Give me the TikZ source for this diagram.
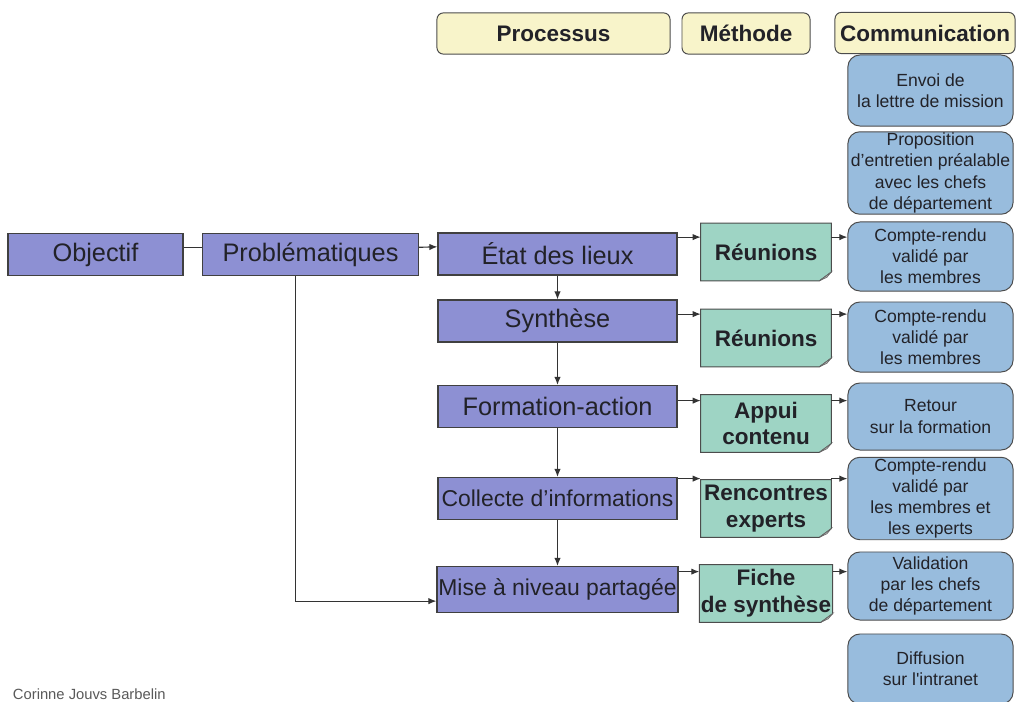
\documentclass[tikz,border=0pt]{standalone}
\usepackage{fontspec}
\setmainfont{Liberation Sans}
\usetikzlibrary{arrows.meta,calc,positioning}
\definecolor{headyellow}{RGB}{248,244,202}
\definecolor{procviolet}{RGB}{141,144,211}
\definecolor{methgreen}{RGB}{158,212,196}
\definecolor{commblue}{RGB}{152,188,221}
\definecolor{inkgrey}{RGB}{34,34,40}
\tikzset{
  link/.style={black!80, line width=0.8pt},
  flow/.style={-{Latex[length=2mm,width=1.6mm]}, black!80, line width=0.8pt},
  headbox/.style={draw=black!70, line width=0.7pt, fill=headyellow,
                  minimum height=10.3mm, rounded corners=1.6mm,
                  inner sep=2pt, align=center, text=inkgrey,
                  font=\bfseries\fontsize{16}{19}\selectfont},
  procbox/.style={draw=black!75, line width=0.8pt, fill=procviolet,
                  minimum width=59.75mm, minimum height=10.5mm,
                  inner sep=1pt, align=center, text=inkgrey,
                  font=\fontsize{18}{21}\selectfont},
  methbox/.style={fill=methgreen, minimum width=32.5mm,
                  minimum height=14.3mm, inner sep=1pt, align=center,
                  text=inkgrey, font=\bfseries\fontsize{16}{19}\selectfont},
  commbox/.style={draw=black!70, line width=0.7pt, fill=commblue,
                  minimum width=41.3mm, rounded corners=3mm,
                  inner sep=1pt, align=center, text=inkgrey,
                  font=\fontsize{12.5}{15}\selectfont},
  note/.style={font=\fontsize{10.5}{12}\selectfont, text=black!65},
}
\begin{document}
\begin{tikzpicture}[x=0.025cm,y=-0.025cm]
  \path[use as bounding box] (0,0) rectangle (1017,702);

  % column headers
  \node[headbox, minimum width=58.25mm] (hProc) at (553.5,33.5) {Processus};
  \node[headbox, minimum width=32mm] (hMeth) at (746,33.5) {Méthode};
  \node[headbox, minimum width=45mm] (hComm) at (925,33) {Communication};

  % process column
  \node[procbox, minimum width=43.75mm] (Obj) at (95.5,254.5) {Objectif};
  \node[procbox, minimum width=54mm] (Prob) at (310.5,254.5) {Problématiques};
  \node[procbox] (P1) at (557.5,254) {État des lieux};
  \node[procbox] (P2) at (557.5,321) {Synthèse};
  \node[procbox] (P3) at (557.5,406.5) {Formation-action};
  \node[procbox, font=\fontsize{16.3}{19}\selectfont] (P4) at (557.5,498.5)
    {Collecte d’informations};
  \node[procbox, minimum height=11.5mm, font=\fontsize{16.3}{19}\selectfont] (P5)
    at (557.5,589.5) {Mise à niveau partagée};

  % method column
  \node[methbox] (M1) at (766,252) {Réunions};
  \node[methbox] (M2) at (766,338) {Réunions};
  \node[methbox] (M3) at (766,423.5) {Appui\\contenu};
  \node[methbox] (M4) at (766,508.5) {Rencontres\\experts};
  \node[methbox] (M5) at (766,593.5) {Fiche\\de synthèse};
  \foreach \m in {M1,M2,M3,M4,M5} {
    \fill[white] ([xshift=-3mm]\m.south east) -- ([xshift=1pt,yshift=-1pt]\m.south east)
      -- ([yshift=2.2mm]\m.south east) -- cycle;
    \draw[black!70, line width=0.7pt] (\m.south west) -- (\m.north west)
      -- (\m.north east) -- ([yshift=2.2mm]\m.south east)
      -- ([xshift=-3mm]\m.south east) -- cycle;
    \filldraw[fill=black!30, draw=black!60, line width=0.4pt]
      ([xshift=-3mm]\m.south east) -- ([yshift=2.2mm]\m.south east)
      -- ([xshift=-1.1mm,yshift=0.9mm]\m.south east) -- cycle;
  }

  % communication column
  \node[commbox, minimum height=17.75mm] (C1) at (930.5,90.5)
    {Envoi de\\la lettre de mission};
  \node[commbox, minimum height=20mm] (C2) at (930.5,173)
    {Proposition\\d’entretien préalable\\avec les chefs\\de département};
  \node[commbox, minimum height=17.25mm] (C3) at (930.5,256.5)
    {Compte-rendu\\validé par\\les membres};
  \node[commbox, minimum height=17.5mm] (C4) at (930.5,337)
    {Compte-rendu\\validé par\\les membres};
  \node[commbox, minimum height=16.75mm] (C5) at (930.5,416.5)
    {Retour\\sur la formation};
  \node[commbox, minimum height=19.25mm] (C6) at (930.5,498.5)
    {Compte-rendu\\validé par\\les membres et\\les experts};
  \node[commbox, minimum height=17mm] (C7) at (930.5,586)
    {Validation\\par les chefs\\de département};
  \node[commbox, minimum height=17.5mm] (C8) at (930.5,669)
    {Diffusion\\sur l\textquotesingle intranet};

  % connectors
  \draw[link] ([yshift=1.8mm]Obj.east) -- ([yshift=1.8mm]Prob.west);
  \draw[flow] ([yshift=1.8mm]Prob.east) -- ([yshift=1.8mm]P1.west);
  \draw[flow] ([xshift=-3.75mm]Prob.south) |- ([yshift=-2.9mm]P5.west);
  \foreach \a/\b in {P1/P2,P2/P3,P3/P4,P4/P5}
    \draw[flow] (\a.south) -- (\b.north);
  \foreach \i/\d/\j in {1/14/3,2/5/4,3/6/5,4/-1/6,5/7/7} {
    \path (M\i.north west) ++(0,\d) coordinate (in\i)
          (M\i.north east) ++(0,\d) coordinate (out\i);
    \draw[flow] (P\i.east |- in\i) -- (in\i);
    \draw[flow] (out\i) -- (C\j.west |- out\i);
  }

  \node[note, anchor=base west] (auth) at (8,699) {Corinne Jouvs Barbelin};
\end{tikzpicture}
\end{document}
